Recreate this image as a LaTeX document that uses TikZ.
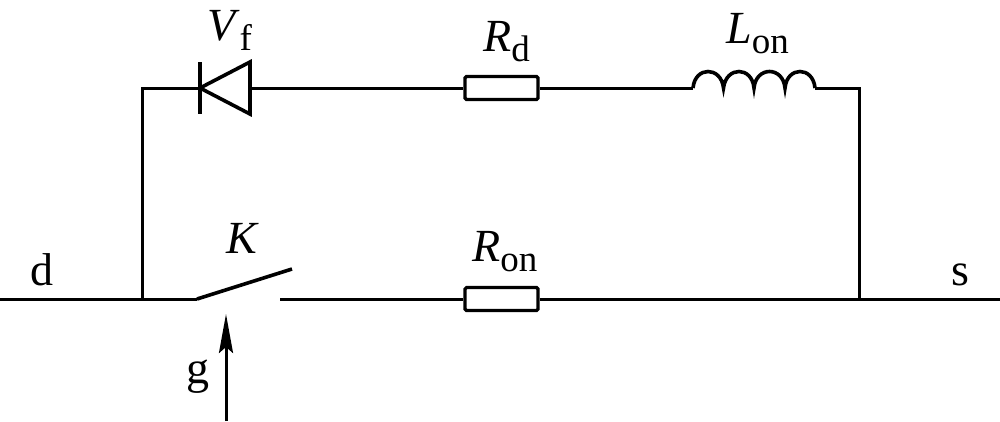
\documentclass[tikz,border=0pt]{standalone}
\usepackage{fontspec}
\setmainfont{Liberation Serif}
\usetikzlibrary{arrows.meta}
\tikzset{
  wire/.style={line width=3pt,line join=miter,black},
  thickwire/.style={line width=3.6pt,line join=miter,black},
  res/.style={draw=black,line width=3.2pt,fill=white,rounded corners=1.5pt,minimum width=73pt,minimum height=23pt,inner sep=0pt},
  lab/.style={font=\fontsize{46}{46}\selectfont,inner sep=0pt,text=black},
  gatearrow/.style={line width=3pt,-{Stealth[length=39pt,width=14pt,inset=6pt]}}
}
\newcommand{\subl}[2]{\textit{#1}\raisebox{-10pt}{\fontsize{37}{37}\selectfont #2}}
\begin{document}
\begin{tikzpicture}[x=1pt,y=-1pt]
\useasboundingbox (0,0) rectangle (1000,421);
% resistors
\node[res] (rd) at (501.5,88) {};
\node[res] (ron) at (501.5,299) {};
% named points
\coordinate (dl) at (0,299);
\coordinate (jl) at (142,299);
\coordinate (tl) at (142,88);
\coordinate (tip) at (200,88);
\coordinate (base) at (250,88);
\coordinate (bt) at (250,62);
\coordinate (bb) at (250,114);
\coordinate (ct) at (200,62);
\coordinate (cb) at (200,114);
\coordinate (la) at (693,88);
\coordinate (lb) at (815,88);
\coordinate (tr) at (859,88);
\coordinate (jr) at (859,299);
\coordinate (sr) at (1000,299);
\coordinate (hinge) at (197,299);
\coordinate (blade) at (292,269);
\coordinate (contact) at (280,299);
\coordinate (gb) at (226,421);
\coordinate (gt) at (226,314);
% top branch
\draw[wire] (jl) -- (tl) -- (tip);
\draw[wire] (base) -- (rd.west);
\draw[wire] (rd.east) -- (la);
\draw[wire] (lb) -- (tr) -- (jr);
% diode
\draw[thickwire] (ct) -- (cb);
\draw[thickwire] (tip) -- (bt) -- (bb) -- cycle;
% inductor
\draw[thickwire] (la) .. controls (695,66) and (721,66) .. (723.5,88)
  .. controls (726,66) and (752,66) .. (754,88)
  .. controls (756,66) and (783,66) .. (785,88)
  .. controls (787,66) and (813,66) .. (lb);
% bottom branch
\draw[wire] (dl) -- (hinge);
\draw[thickwire] (hinge) -- (blade);
\draw[wire] (contact) -- (ron.west);
\draw[wire] (ron.east) -- (sr);
\draw[gatearrow] (gb) -- (gt);
% labels
\node[lab,anchor=base west] (lvf) at (207,40) {\subl{V}{f}};
\node[lab,anchor=base west] (lrd) at (483,51) {\subl{R}{d}};
\node[lab,anchor=base west] (llon) at (726,43) {\subl{L}{on}};
\node[lab,anchor=base west] (lron) at (472,261) {\subl{R}{on}};
\node[lab,anchor=base west] (lk) at (226,253) {\textit{K}};
\node[lab,anchor=base west] (ld) at (30,285) {d};
\node[lab,anchor=base west] (ls) at (951,285) {s};
\node[lab,anchor=base west] (lg) at (186,383) {g};
\end{tikzpicture}
\end{document}
